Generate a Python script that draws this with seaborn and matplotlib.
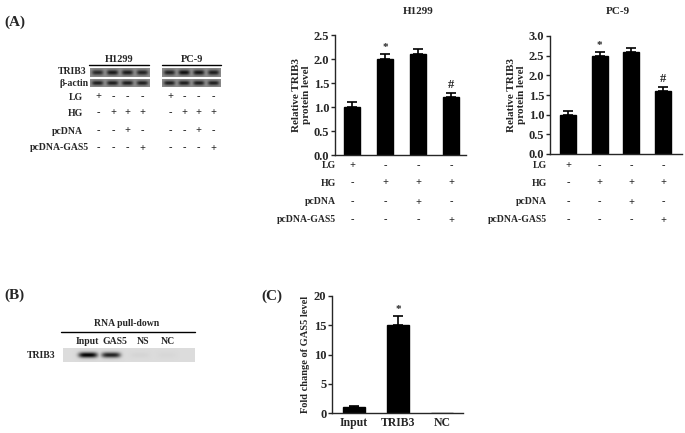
import numpy as np
import pandas as pd
import seaborn as sns
import matplotlib.pyplot as plt
from matplotlib.transforms import blended_transform_factory

## values
groups = ['G1', 'G2', 'G3', 'G4']
h1299_mean = [1.0, 2.0, 2.1, 1.2]
h1299_err = [0.1, 0.1, 0.1, 0.1]
pc9_mean = [1.0, 2.5, 2.6, 1.6]
pc9_err = [0.1, 0.1, 0.1, 0.1]
h1299_marks = ['', '*', '', '#']
pc9_marks = ['', '*', '', '#']

conditions = ['LG', 'HG', 'pcDNA', 'pcDNA-GAS5']
signs = [['+', '-', '-', '-'],
         ['-', '+', '+', '+'],
         ['-', '-', '+', '-'],
         ['-', '-', '-', '+']]

pull_lanes = ['Input', 'TRIB3', 'NC']
pull_mean = [1.0, 15.0, 0.0]
pull_err = [0.2, 1.6, 0.0]
pull_marks = ['', '*', '']

# western blot band intensities (0 = none, 1 = darkest)
blot_trib3_h1299 = [0.80, 0.92, 0.90, 0.85]
blot_actin_h1299 = [0.88, 0.90, 0.90, 0.88]
blot_trib3_pc9 = [0.85, 1.00, 0.95, 0.88]
blot_actin_pc9 = [0.88, 0.90, 0.90, 0.88]
rip_lanes = ['Input', 'GAS5', 'NS', 'NC']
rip_trib3 = [1.00, 0.85, 0.03, 0.02]

sns.set_style('ticks')
plt.rcParams['font.family'] = ['Liberation Serif', 'DejaVu Serif']
plt.rcParams['font.weight'] = 'bold'
plt.rcParams['axes.labelweight'] = 'bold'
plt.rcParams['axes.linewidth'] = 1.0

W, H = 685, 433
fig = plt.figure(figsize=(W / 100, H / 100), dpi=100)


def box(l, t, r, b):
    return [l / W, 1 - b / H, (r - l) / W, (b - t) / H]


# overlay for free text, in pixel coordinates
ov = fig.add_axes([0, 0, 1, 1])
ov.set_xlim(0, W)
ov.set_ylim(H, 0)
ov.axis('off')


def bar_panel(rect, names, means, errs, marks, ylim, yticks, ylabel, xlim, fmt):
    ax = fig.add_axes(box(*rect))
    df = pd.DataFrame({'g': names, 'v': means})
    sns.barplot(data=df, x='g', y='v', color='black', width=0.5,
                errorbar=None, ax=ax, saturation=1)
    for p in ax.patches:
        p.set_edgecolor('black')
    x = np.arange(len(means))
    has = np.array(errs) > 0
    ax.errorbar(x[has], np.array(means)[has],
                yerr=[np.zeros(has.sum()), np.array(errs)[has]], fmt='none',
                ecolor='black', elinewidth=1.2, capsize=3.5, capthick=1.2)
    for xi, m, e, t in zip(x, means, errs, marks):
        if t:
            ax.text(xi, m + e + ylim[1] * 0.015, t, ha='center', va='bottom',
                    fontsize=9 if t == '#' else 8)
    ax.set_ylim(*ylim)
    ax.set_yticks(yticks)
    ax.set_yticklabels([fmt.format(v) for v in yticks])
    ax.set_xlim(*xlim)
    ax.set_xlabel('')
    ax.set_ylabel(ylabel, fontsize=8, labelpad=2)
    ax.tick_params(axis='y', labelsize=9, length=3, width=1, pad=1)
    ax.tick_params(axis='x', length=0)
    sns.despine(ax=ax)
    return ax


def sign_table(ax, label_x, rows_y):
    tr = blended_transform_factory(ax.transData, fig.transFigure)
    for cond, row, y in zip(conditions, signs, rows_y):
        ov.text(label_x, y, cond, ha='right', va='center', fontsize=7)
        for xi, s in enumerate(row):
            ax.text(xi, 1 - y / H, s, transform=tr, ha='center', va='center',
                    fontsize=7.5, clip_on=False)


rows_y = [166, 183, 202, 220]

# (A) H1299
ax1 = bar_panel((335, 35, 466, 155), groups, h1299_mean, h1299_err, h1299_marks,
                (0, 2.5), [0, 0.5, 1.0, 1.5, 2.0, 2.5],
                'Relative TRIB3\nprotein level', (-0.52, 3.45), '{:.1f}')
ax1.set_xticklabels([])
sign_table(ax1, 336, rows_y)
ov.text(418, 11, 'H1299', ha='center', va='center', fontsize=8)

# (A) PC-9
ax2 = bar_panel((550, 36, 682, 154), groups, pc9_mean, pc9_err, pc9_marks,
                (0, 3.0), [0, 0.5, 1.0, 1.5, 2.0, 2.5, 3.0],
                'Relative TRIB3\nprotein level', (-0.57, 3.6), '{:.1f}')
ax2.set_xticklabels([])
sign_table(ax2, 547, rows_y)
ov.text(618, 12, 'PC-9', ha='center', va='center', fontsize=8)

# (C)
ax3 = bar_panel((332, 296, 463, 413), pull_lanes, pull_mean, pull_err, pull_marks,
                (0, 20), [0, 5, 10, 15, 20], 'Fold change of GAS5 level',
                (-0.5, 2.48), '{:.0f}')
ax3.tick_params(axis='x', labelsize=8.5, pad=3)
ax3.set_ylabel('Fold change of GAS5 level', fontsize=7.5, labelpad=3)


def blot(rect, bands, bg, centers=None, half_w=5.5, half_h=None, dark=0.05):
    l, t, r, b = rect
    ax = fig.add_axes(box(*rect))
    nx, ny = int(r - l) * 3, int(b - t) * 3
    xx = np.linspace(l, r, nx)
    yy = np.linspace(t, b, ny)
    if centers is None:
        step = (r - l) / len(bands)
        centers = [l + (i + 0.5) * step for i in range(len(bands))]
    if half_h is None:
        half_h = (b - t) * 0.28
    img = np.zeros((ny, nx))
    for c, v in zip(centers, bands):
        prof_x = np.exp(-((xx - c) / half_w) ** 4)
        prof_y = np.exp(-((yy - (t + b) / 2) / half_h) ** 2)
        img = np.maximum(img, v * np.outer(prof_y, prof_x))
    gray = bg - (bg - dark) * img
    ax.imshow(gray, cmap='gray', vmin=0, vmax=1, aspect='auto',
              interpolation='bilinear')
    ax.axis('off')
    return ax


# (A) blots
blot((90, 68, 149, 77), blot_trib3_h1299, 0.55)
blot((90, 79, 149, 87), blot_actin_h1299, 0.55)
blot((162, 68, 221, 77), blot_trib3_pc9, 0.55)
blot((162, 79, 221, 87), blot_actin_pc9, 0.55)
ov.plot([89, 149], [65, 65], color='black', lw=1)
ov.plot([162, 221], [65, 65], color='black', lw=1)
ov.text(119, 60, 'H1299', ha='center', va='center', fontsize=7.5)
ov.text(192, 60, 'PC-9', ha='center', va='center', fontsize=7.5)
ov.text(86, 72, 'TRIB3', ha='right', va='center', fontsize=7)
ov.text(89, 83, 'β-actin', ha='right', va='center', fontsize=7)
blot_rows_y = [97, 113, 131, 148]
h_cols = [98, 113, 127, 142]
p_cols = [170, 184, 198, 213]
for cond, row, y in zip(conditions, signs, blot_rows_y):
    ov.text(83 if cond != 'pcDNA-GAS5' else 89, y, cond, ha='right',
            va='center', fontsize=7)
    for xs in (h_cols, p_cols):
        for xpos, s in zip(xs, row):
            ov.text(xpos, y, s, ha='center', va='center', fontsize=7.5)

# (B) RNA pull-down blot
rip_x = [87, 115, 143, 168]
blot((63, 348, 195, 362), rip_trib3, 0.86, centers=[88, 111, 140, 167],
     half_w=9.5, half_h=2.8, dark=0.0)
ov.plot([61, 195], [332, 332], color='black', lw=1)
ov.text(127, 323, 'RNA pull-down', ha='center', va='center', fontsize=7)
for xpos, lane in zip(rip_x, rip_lanes):
    ov.text(xpos, 342, lane, ha='center', va='center', fontsize=7)
ov.text(55, 355, 'TRIB3', ha='right', va='center', fontsize=7)

# panel letters
ov.text(4, 22, '(A)', ha='left', va='center', fontsize=11)
ov.text(4, 295, '(B)', ha='left', va='center', fontsize=11)
ov.text(261, 296, '(C)', ha='left', va='center', fontsize=11)

fig.savefig('out.png', dpi=100)
